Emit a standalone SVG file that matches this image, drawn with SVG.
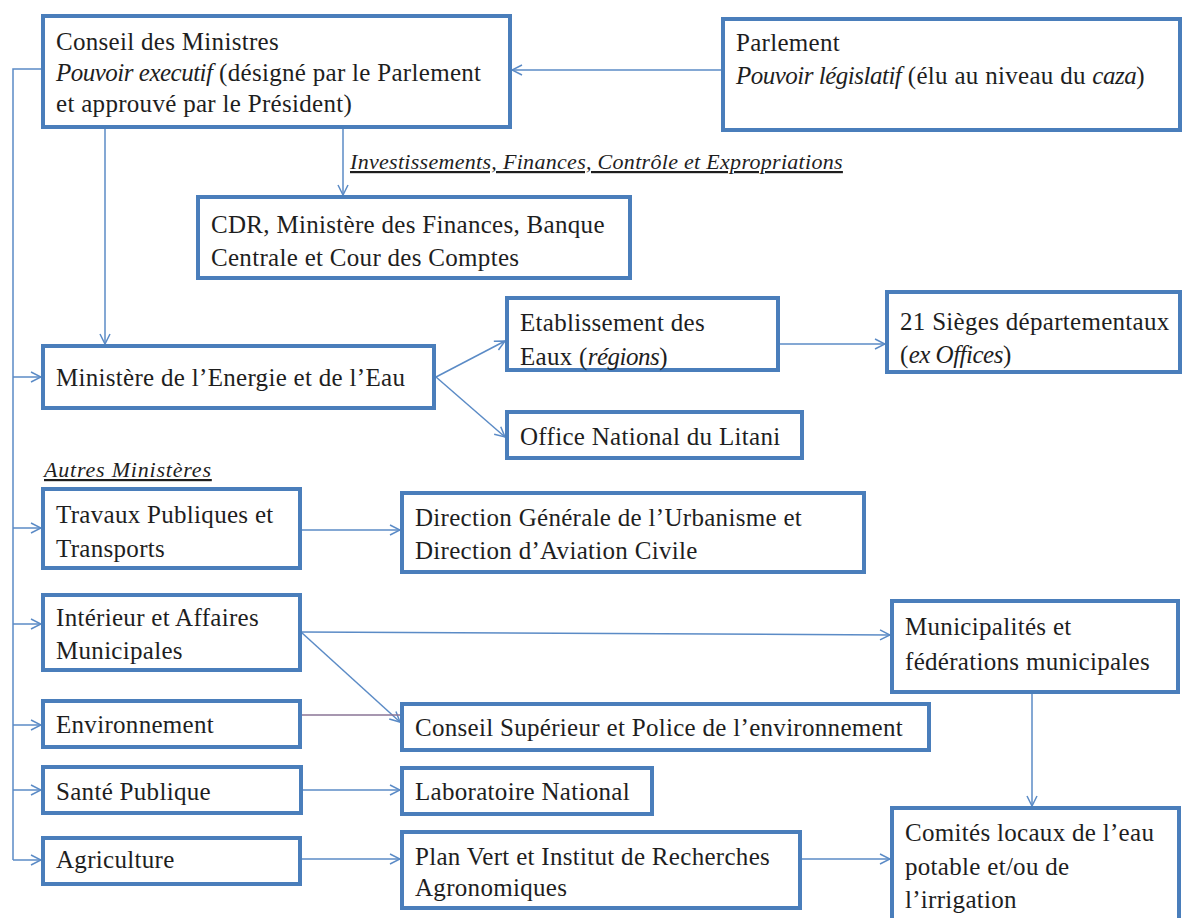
<svg xmlns="http://www.w3.org/2000/svg" width="1192" height="918" viewBox="0 0 1192 918">
<style>
.box{fill:#fff;stroke:#4a7ebb;stroke-width:4}
.t{font-family:"Liberation Serif","DejaVu Serif",serif;font-size:25px;letter-spacing:0.3px;fill:#1e1e1e}
.i{font-style:italic;letter-spacing:-0.5px}
.lbl{font-family:"Liberation Serif","DejaVu Serif",serif;font-size:22px;letter-spacing:0.3px;font-style:italic;fill:#1e1e1e;text-decoration:underline}
.c{fill:none;stroke:#5b8bc6;stroke-width:1.5}
</style>
<defs>
<marker id="a" viewBox="0 0 12 12" refX="11" refY="6" markerWidth="12" markerHeight="12" markerUnits="userSpaceOnUse" orient="auto">
<path d="M1,1 L11,6 L1,11" fill="none" stroke="#5b8bc6" stroke-width="1.5"/>
</marker>
</defs>
<rect width="1192" height="918" fill="#fff"/>
<g id="connectors">
<path class="c" d="M722,70 L512,70" marker-end="url(#a)"/>
<path class="c" d="M343,129 L343,195" marker-end="url(#a)"/>
<path class="c" d="M105,129 L105,344" marker-end="url(#a)"/>
<path class="c" d="M41,69 L13,69 L13,860"/>
<path class="c" d="M13,377 L41,377" marker-end="url(#a)"/>
<path class="c" d="M13,528 L41,528" marker-end="url(#a)"/>
<path class="c" d="M13,624 L41,624" marker-end="url(#a)"/>
<path class="c" d="M13,725 L41,725" marker-end="url(#a)"/>
<path class="c" d="M13,790 L41,790" marker-end="url(#a)"/>
<path class="c" d="M13,860 L41,860" marker-end="url(#a)"/>
<path class="c" d="M436,377 L505,341" marker-end="url(#a)"/>
<path class="c" d="M436,377 L505,437" marker-end="url(#a)"/>
<path class="c" d="M778,344 L885,344" marker-end="url(#a)"/>
<path class="c" d="M301,530 L400,530" marker-end="url(#a)"/>
<path class="c" d="M301,632 L890,635" marker-end="url(#a)"/>
<path class="c" d="M301,632 L400,722" marker-end="url(#a)"/>
<path d="M301,715 L402,715" fill="none" stroke="#8a7596" stroke-width="1.5"/>
<path class="c" d="M301,790 L400,790" marker-end="url(#a)"/>
<path class="c" d="M301,859 L400,859" marker-end="url(#a)"/>
<path class="c" d="M800,859 L890,859" marker-end="url(#a)"/>
<path class="c" d="M1032,693 L1032,806" marker-end="url(#a)"/>
</g>
<g id="label-invest"><text class="lbl" x="350" y="169">Investissements, Finances, Contrôle et Expropriations</text></g>
<g id="label-autres"><text class="lbl" x="44" y="477" style="letter-spacing:0.8px">Autres Ministères</text></g>
<g id="conseil">
<rect class="box" x="43" y="16" width="467" height="111"/>
<text class="t" x="56" y="50">Conseil des Ministres</text>
<text class="t" x="56" y="81"><tspan class="i">Pouvoir executif</tspan>  (désigné par le Parlement</text>
<text class="t" x="56" y="112">et approuvé par le Président)</text>
</g>
<g id="parlement">
<rect class="box" x="723" y="19" width="457" height="111"/>
<text class="t" x="736" y="51">Parlement</text>
<text class="t" x="736" y="84"><tspan class="i">Pouvoir législatif</tspan>  (élu au niveau du <tspan class="i">caza</tspan>)</text>
</g>
<g id="cdr">
<rect class="box" x="198" y="197" width="432" height="81"/>
<text class="t" x="211" y="233">CDR, Ministère des Finances, Banque</text>
<text class="t" x="211" y="266">Centrale et Cour des Comptes</text>
</g>
<g id="energie">
<rect class="box" x="43" y="346" width="391" height="62"/>
<text class="t" x="56" y="386">Ministère de l’Energie et de l’Eau</text>
</g>
<g id="etablissement">
<rect class="box" x="507" y="298" width="271" height="72"/>
<text class="t" x="520" y="331">Etablissement des</text>
<text class="t" x="520" y="365">Eaux (<tspan class="i">régions</tspan>)</text>
</g>
<g id="litani">
<rect class="box" x="507" y="412" width="295" height="46"/>
<text class="t" x="520" y="445">Office National du Litani</text>
</g>
<g id="sieges">
<rect class="box" x="887" y="292" width="293" height="80"/>
<text class="t" x="900" y="330">21 Sièges départementaux</text>
<text class="t" x="900" y="363">(<tspan class="i">ex Offices</tspan>)</text>
</g>
<g id="travaux">
<rect class="box" x="43" y="489" width="257" height="79"/>
<text class="t" x="56" y="523">Travaux Publiques et</text>
<text class="t" x="56" y="557">Transports</text>
</g>
<g id="direction">
<rect class="box" x="402" y="493" width="462" height="79"/>
<text class="t" x="415" y="526">Direction Générale de l’Urbanisme et</text>
<text class="t" x="415" y="559">Direction d’Aviation Civile</text>
</g>
<g id="interieur">
<rect class="box" x="43" y="595" width="257" height="75"/>
<text class="t" x="56" y="626">Intérieur et Affaires</text>
<text class="t" x="56" y="659">Municipales</text>
</g>
<g id="municipalites">
<rect class="box" x="892" y="601" width="286" height="91"/>
<text class="t" x="905" y="635">Municipalités et</text>
<text class="t" x="905" y="670">fédérations municipales</text>
</g>
<g id="environnement">
<rect class="box" x="43" y="701" width="257" height="46"/>
<text class="t" x="56" y="733">Environnement</text>
</g>
<g id="conseil-sup">
<rect class="box" x="402" y="704" width="527" height="46"/>
<text class="t" x="415" y="736">Conseil Supérieur et Police de l’environnement</text>
</g>
<g id="sante">
<rect class="box" x="43" y="767" width="258" height="46"/>
<text class="t" x="56" y="800">Santé Publique</text>
</g>
<g id="laboratoire">
<rect class="box" x="402" y="768" width="250" height="46"/>
<text class="t" x="415" y="800">Laboratoire National</text>
</g>
<g id="agriculture">
<rect class="box" x="43" y="838" width="257" height="46"/>
<text class="t" x="56" y="868">Agriculture</text>
</g>
<g id="planvert">
<rect class="box" x="402" y="832" width="398" height="76"/>
<text class="t" x="415" y="865">Plan Vert et Institut de Recherches</text>
<text class="t" x="415" y="896">Agronomiques</text>
</g>
<g id="comites">
<rect class="box" x="892" y="808" width="287" height="116"/>
<text class="t" x="905" y="841">Comités locaux de l’eau</text>
<text class="t" x="905" y="875">potable et/ou de</text>
<text class="t" x="905" y="908">l’irrigation</text>
</g>
</svg>
